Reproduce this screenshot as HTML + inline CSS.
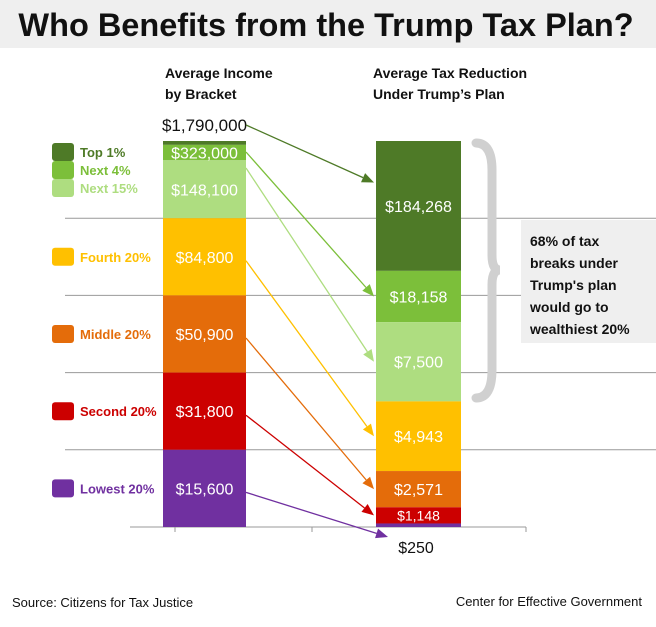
<!DOCTYPE html>
<html><head><meta charset="utf-8"><style>
body{margin:0;width:656px;height:622px;background:#fff;overflow:hidden;font-family:"Liberation Sans",sans-serif}
</style></head><body>
<svg width="656" height="622" viewBox="0 0 656 622" xmlns="http://www.w3.org/2000/svg" font-family="Liberation Sans, sans-serif">
<rect x="0" y="0" width="656" height="48" fill="#efefef"/>
<text x="326" y="36" text-anchor="middle" font-size="32.5" font-weight="bold" fill="#111">Who Benefits from the Trump Tax Plan?</text>
<text x="165" y="78" font-size="14" font-weight="bold" fill="#111">Average Income</text>
<text x="165" y="99" font-size="14" font-weight="bold" fill="#111">by  Bracket</text>
<text x="373" y="78" font-size="14" font-weight="bold" fill="#111">Average Tax Reduction</text>
<text x="373" y="99" font-size="14" font-weight="bold" fill="#111">Under Trump’s Plan</text>
<g id="grid"></g>
<g id="bars"></g>
<g id="arrows"></g>
<g id="legend"></g>
<path d="M476 143 Q492 143 492 170 L492 255 Q492 270 500 270 Q492 270 492 285 L492 370 Q492 398 476 398" fill="none" stroke="#d0d0d0" stroke-width="9" stroke-linecap="round"/>
<rect x="521" y="220" width="135" height="123" fill="#efefef"/>
<g font-size="14" font-weight="bold" fill="#111">
<text x="530" y="246">68% of tax</text><text x="530" y="268">breaks under</text><text x="530" y="290">Trump's plan</text><text x="530" y="312">would go to</text><text x="530" y="334">wealthiest 20%</text></g>
<text x="12" y="607" font-size="13" fill="#111">Source: Citizens for Tax Justice</text>
<text x="642" y="606" font-size="13" fill="#111" text-anchor="end">Center for Effective Government</text>
</svg>
<script>
const groups=["Top 1%","Next 4%","Next 15%","Fourth 20%","Middle 20%","Second 20%","Lowest 20%"];
const popShare=[1,4,15,20,20,20,20];
const income=[1790000,323000,148100,84800,50900,31800,15600];
const taxCut=[184268,18158,7500,4943,2571,1148,250];
const colors=["#4e7a27","#7cbf3a","#aedd80","#ffc000","#e46c0a","#cc0000","#7030a0"];
const NS="http://www.w3.org/2000/svg";
const topY=141,bottomY=527,H=bottomY-topY;
function mk(t,a,p){const e=document.createElementNS(NS,t);for(const k in a)e.setAttribute(k,a[k]);p.appendChild(e);return e;}
function fmt(v){return "$"+v.toLocaleString("en-US");}
const g=document.getElementById("grid"),b=document.getElementById("bars"),ar=document.getElementById("arrows"),lg=document.getElementById("legend");
for(let i=1;i<=4;i++){
 const l=mk("line",{x1:65,x2:656,y1:bottomY-H*i/5,y2:bottomY-H*i/5,stroke:"#999","stroke-width":1},g);
 
 }
const base=mk("line",{x1:130,x2:526,y1:bottomY,y2:bottomY,stroke:"#999","stroke-width":1},g);


[175,312,526].forEach(x=>{const t=mk("line",{x1:x,x2:x,y1:bottomY,y2:bottomY+5,stroke:"#999"},g);
 
 });
const popTot=popShare.reduce((a,c)=>a+c,0);
const shares=taxCut.map((v,i)=>v*popShare[i]);const shTot=shares.reduce((a,c)=>a+c,0);
let yl=topY,yr=topY;const lpos=[],rpos=[];
for(let i=0;i<groups.length;i++){
 const hl=H*popShare[i]/popTot, hr=H*shares[i]/shTot;
 const r1=mk("rect",{x:163,y:yl,width:83,height:hl,fill:colors[i]},b);
 
 
 const r2=mk("rect",{x:376,y:yr,width:85,height:hr,fill:colors[i]},b);
 
 
 lpos.push([yl,hl]);rpos.push([yr,hr]);yl+=hl;yr+=hr;}
for(let i=0;i<groups.length;i++){
 const [y,h]=lpos[i];let ty,fill="#fff",fs=16;
 if(i===0){ty=131;fill="#111";fs=17;}else ty=y+h/2+6;
 const t=mk("text",{x:204.5,y:ty,"text-anchor":"middle","font-size":fs,fill:fill},b);t.textContent=fmt(income[i]);
 
 
 const [ry,rh]=rpos[i];let rty=ry+rh/2+6,rf="#fff",rfs=16;
 if(i===6){rty=553;rf="#111";}if(i===5){rty=ry+rh/2+5;rfs=14;}
 const t2=mk("text",{x:i===6?416:418.5,y:rty,"text-anchor":"middle","font-size":rfs,fill:rf},b);t2.textContent=fmt(taxCut[i]);
 
 
 const ly=i<3?[152,170,188][i]:y+h/2;
 const sq=mk("rect",{x:52,y:ly-9,width:22,height:18,rx:3,fill:colors[i]},lg);
 
 
 const lt=mk("text",{x:80,y:ly+5,"font-size":13,"font-weight":"bold",fill:colors[i]},lg);lt.textContent=groups[i];
 
 
 let sx=246,sy=i===0?125:(i===1?152:(i===2?168:y+h/2+4));
 let ex=374,ey=ry+rh/2;
 if(i===0)ey=ry+rh*0.32;if(i===6){ex=388;ey=537;}
 const dx=ex-sx,dy=ey-sy,L=Math.hypot(dx,dy),ux=dx/L,uy=dy/L;
 const bx=ex-ux*12,by=ey-uy*12;
 const ln=mk("line",{x1:sx,y1:sy,x2:bx,y2:by,stroke:colors[i],"stroke-width":1.3},ar);
 
 
 const hd=mk("polygon",{points:`${ex},${ey} ${bx-uy*5},${by+ux*5} ${bx+uy*5},${by-ux*5}`,fill:colors[i]},ar);
 
 
}
</script>
</body></html>
